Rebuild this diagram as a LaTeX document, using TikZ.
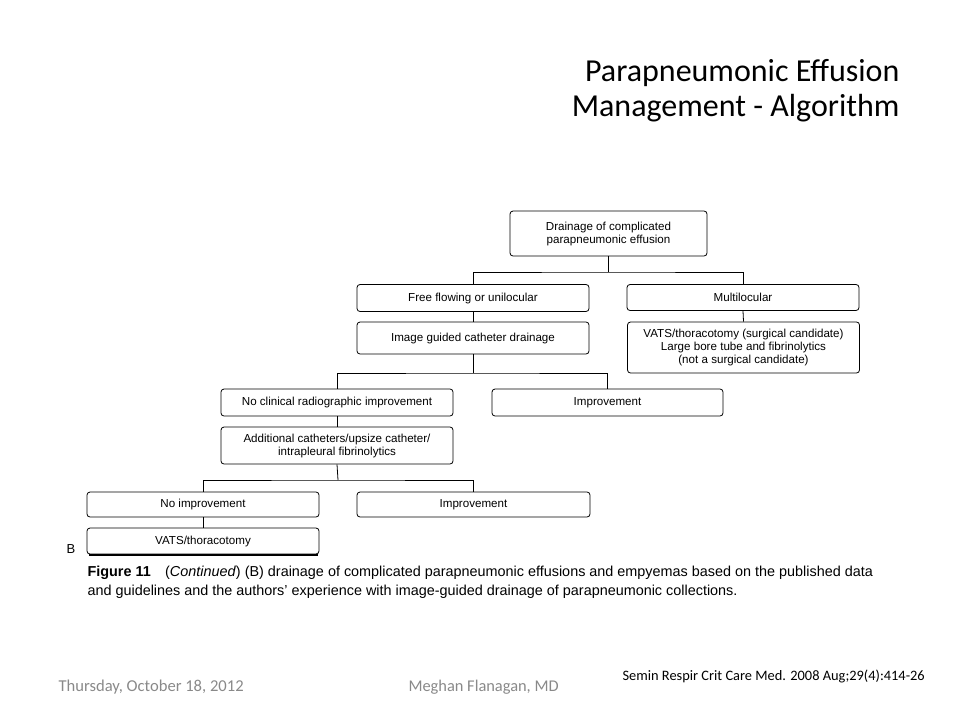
\documentclass[tikz,border=0pt]{standalone}
\usepackage{fontspec}
\setmainfont{Liberation Sans}
\newfontfamily\slidefont{Carlito}
\usepackage{xcolor}
\usepackage{tikz}
\usetikzlibrary{positioning,calc}

\definecolor{footgray}{RGB}{137,137,137}

\begin{document}
\begin{tikzpicture}[x=1pt, y=-1pt,
    box/.style={draw, rounded corners=3pt, line width=0.8pt, align=center, minimum width=232pt, minimum height=26pt, inner sep=1pt, font=\fontsize{11.6}{13}\selectfont},
    link/.style={draw, line width=0.8pt}
  ]
    \useasboundingbox (0,0) rectangle (960,720);
    % title
    \node[anchor=east, font=\slidefont\fontsize{32}{38}\selectfont] (title1) at (903,73) {Parapneumonic Effusion};
    \node[anchor=east, font=\slidefont\fontsize{32}{38}\selectfont] (title2) at (903,108) {Management - Algorithm};
    % boxes
    \node[box, minimum width=197pt, minimum height=45pt] (drain) at (608.5,233.5) {Drainage of complicated\\parapneumonic effusion};
    \node[box, minimum height=27pt] (free) at (473,298) {Free flowing or unilocular};
    \node[box] (multi) at (743,297.5) {Multilocular};
    \node[box, minimum height=32pt] (guided) at (473,338) {Image guided catheter drainage};
    \node[box, minimum height=51pt] (surg) at (743.5,347.5) {VATS/thoracotomy (surgical candidate)\\Large bore tube and fibrinolytics\\(not a surgical candidate)};
    \node[box, minimum height=27pt] (noclin) at (337,402.5) {No clinical radiographic improvement};
    \node[box, minimum width=231pt, minimum height=27pt] (impra) at (607.5,402.5) {Improvement};
    \node[box, minimum height=37pt] (addl) at (337,445.5) {Additional catheters/upsize catheter/\\intrapleural fibrinolytics};
    \node[box, minimum height=25pt] (noimp) at (203,504.5) {No improvement};
    \node[box, minimum width=233pt, minimum height=25pt] (imprb) at (473.5,504.5) {Improvement};
    \node[box] (vats) at (203,541) {VATS/thoracotomy};
    \draw[line width=2pt] ([xshift=2pt,yshift=-1pt]vats.south west) -- ([xshift=-1pt,yshift=-1pt]vats.south east);
    \node[font=\fontsize{13}{15}\selectfont] (panel) at (71,549) {B};
    % connectors
    \coordinate (ja) at (608.5,272);
    \coordinate (jb) at (473,373);
    \coordinate (jc) at (338,480);
    \draw[link] (drain.south) -- (ja);
    \draw[link] (free.north) |- (ja) -| (multi.north);
    \draw[link] (free.south) -- (guided.north);
    \draw[link] (multi.south) -- (surg.north);
    \draw[link] (guided.south) -- (jb);
    \draw[link] (noclin.north) |- (jb) -| (impra.north);
    \draw[link] (noclin.south) -- (addl.north);
    \draw[link] (addl.south) -- (jc);
    \draw[link] (noimp.north) |- (jc) -| (imprb.north);
    \draw[link] (noimp.south) -- (vats.north);
    % caption
    \node[anchor=west, font=\fontsize{14.4}{17}\selectfont] (cap1) at (84,573) {\textbf{Figure 11}\quad(\textit{Continued}) (B) drainage of complicated parapneumonic effusions and empyemas based on the published data};
    \node[anchor=west, font=\fontsize{14.4}{17}\selectfont] (cap2) at (84,592) {and guidelines and the authors' experience with image-guided drainage of parapneumonic collections.};
    % footer
    \node[anchor=west, text=footgray, font=\slidefont\fontsize{16.6}{19}\selectfont] (date) at (55,687) {Thursday, October 18, 2012};
    \node[anchor=west, text=footgray, font=\slidefont\fontsize{16.4}{19}\selectfont] (author) at (405,687) {Meghan Flanagan, MD};
    \node[anchor=west, font=\slidefont\fontsize{14.4}{17}\selectfont] (ref) at (619,676) {Semin Respir Crit Care Med. 2008 Aug;29(4):414-26};
\end{tikzpicture}
\end{document}
